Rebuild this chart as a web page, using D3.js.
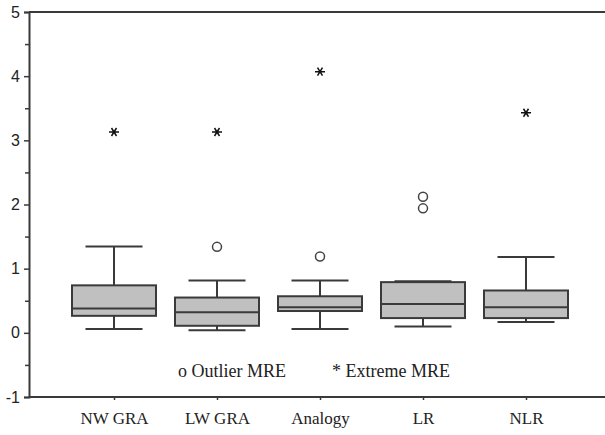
<!DOCTYPE html>
<html>
<head>
<meta charset="utf-8">
<script src="https://cdn.jsdelivr.net/npm/d3@7"></script>
<style>
  html, body { margin: 0; padding: 0; background: #fff; }
  svg { display: block; }
</style>
</head>
<body>
<svg id="chart" width="605" height="435"></svg>
<script>
const categories = ["NW GRA", "LW GRA", "Analogy", "LR", "NLR"];
const whiskerLow  = [0.06, 0.04, 0.06, 0.10, 0.17];
const q1          = [0.265, 0.11, 0.34, 0.23, 0.23];
const median      = [0.38, 0.32, 0.40, 0.45, 0.40];
const q3          = [0.74, 0.55, 0.57, 0.79, 0.66];
const whiskerHigh = [1.345, 0.815, 0.815, 0.805, 1.18];
const outliers    = [[], [1.34], [1.19], [2.12, 1.94], []];
const extremes    = [[3.13], [3.13], [4.07], [], [3.43]];
const yTicks      = [-1, 0, 1, 2, 3, 4, 5];
const yMinorTicks = [-0.5, 0.5, 1.5, 2.5, 3.5, 4.5];
const legendItems = ["o Outlier MRE", "* Extreme MRE"];

const svg = d3.select("#chart");
const axisColor = "#3a3a3a";
const lineColor = "#3a3a3a";

const y = d3.scaleLinear().domain([-1, 5]).range([397, 12]);
const x = d3.scalePoint().domain(categories).range([114, 526]);
const xLeft = 29, xRight = 605;
const boxW = 84, capW = 57;

// frame: top line
svg.append("line").attr("x1", xLeft).attr("x2", xRight).attr("y1", y(5)).attr("y2", y(5))
  .attr("stroke", axisColor).attr("stroke-width", 2);

// y axis
const yAxis = d3.axisLeft(y).tickValues(yTicks).tickSize(5).tickPadding(4).tickFormat(d => String(d));
const gy = svg.append("g").attr("transform", `translate(${xLeft},0)`).call(yAxis);
gy.select(".domain").attr("stroke", axisColor).attr("stroke-width", 2);
gy.selectAll(".tick line").attr("stroke", axisColor).attr("stroke-width", 1.5);
gy.selectAll(".tick text").attr("font-family", "Liberation Sans, Arial, sans-serif")
  .attr("font-size", 16).attr("fill", "#222");
const yMinor = d3.axisLeft(y).tickValues(yMinorTicks).tickSize(4).tickFormat("");
const gym = svg.append("g").attr("transform", `translate(${xLeft},0)`).call(yMinor);
gym.select(".domain").remove();
gym.selectAll(".tick line").attr("stroke", axisColor).attr("stroke-width", 1.5);

// x axis
const xAxis = d3.axisBottom(x).tickSize(3).tickPadding(12);
const gx = svg.append("g").attr("transform", `translate(0,${y(-1)})`).call(xAxis);
gx.select(".domain").attr("d", `M${xLeft},0H${xRight}`).attr("stroke", axisColor).attr("stroke-width", 2);
gx.selectAll(".tick line").attr("stroke", axisColor).attr("stroke-width", 1.5);
gx.selectAll(".tick text").attr("font-family", "Liberation Serif, Times New Roman, serif")
  .attr("font-size", 17).attr("fill", "#222");

// boxes
const g = svg.append("g");
categories.forEach((c, i) => {
  const cx = x(c);
  g.append("line").attr("x1", cx).attr("x2", cx).attr("y1", y(q3[i])).attr("y2", y(whiskerHigh[i]))
    .attr("stroke", lineColor).attr("stroke-width", 2);
  g.append("line").attr("x1", cx).attr("x2", cx).attr("y1", y(q1[i])).attr("y2", y(whiskerLow[i]))
    .attr("stroke", lineColor).attr("stroke-width", 2);
  g.append("line").attr("x1", cx - capW / 2).attr("x2", cx + capW / 2)
    .attr("y1", y(whiskerHigh[i])).attr("y2", y(whiskerHigh[i]))
    .attr("stroke", lineColor).attr("stroke-width", 2);
  g.append("line").attr("x1", cx - capW / 2).attr("x2", cx + capW / 2)
    .attr("y1", y(whiskerLow[i])).attr("y2", y(whiskerLow[i]))
    .attr("stroke", lineColor).attr("stroke-width", 2);
  g.append("rect").attr("x", cx - boxW / 2).attr("width", boxW)
    .attr("y", y(q3[i])).attr("height", y(q1[i]) - y(q3[i]))
    .attr("fill", "#c0c0c0").attr("stroke", lineColor).attr("stroke-width", 2);
  g.append("line").attr("x1", cx - boxW / 2).attr("x2", cx + boxW / 2)
    .attr("y1", y(median[i])).attr("y2", y(median[i]))
    .attr("stroke", lineColor).attr("stroke-width", 2);
  outliers[i].forEach(v => {
    g.append("circle").attr("cx", cx).attr("cy", y(v)).attr("r", 4.5)
      .attr("fill", "none").attr("stroke", "#444").attr("stroke-width", 1.5);
  });
  extremes[i].forEach(v => {
    const py = y(v);
    g.append("path")
      .attr("d", `M${cx - 5},${py}H${cx + 5}M${cx - 2.5},${py - 4}L${cx + 2.5},${py + 4}M${cx - 2.5},${py + 4}L${cx + 2.5},${py - 4}`)
      .attr("stroke", "#111").attr("stroke-width", 1.5).attr("fill", "none");
  });
});

// legend
const legendX = [178, 332];
svg.selectAll(".legend").data(legendItems).enter().append("text")
  .attr("class", "legend")
  .attr("x", (d, i) => legendX[i]).attr("y", 377)
  .attr("font-family", "Liberation Serif, Times New Roman, serif")
  .attr("font-size", 18).attr("fill", "#222")
  .text(d => d);
</script>
</body>
</html>
